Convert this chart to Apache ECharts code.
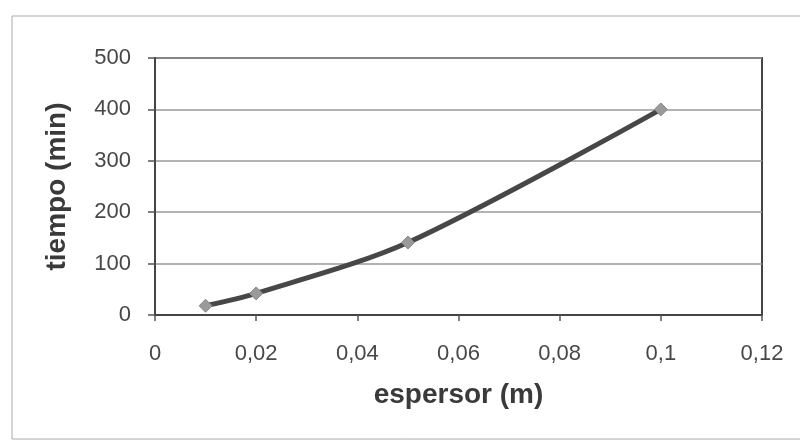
<!DOCTYPE html>
<html>
<head>
<meta charset="utf-8">
<title>tiempo vs espersor</title>
<script src="https://cdn.jsdelivr.net/npm/echarts@6/dist/echarts.min.js"></script>
<style>
  html, body { margin: 0; padding: 0; background: #fff; }
  #chart { width: 800px; height: 441px; }
</style>
</head>
<body>
<div id="chart"></div>
<script>
// Thickness (m) and drying time (min)
const espesor = [0.01, 0.02, 0.05, 0.1];
const tiempo = [18, 42, 141, 400];
const xTicks = [0, 0.02, 0.04, 0.06, 0.08, 0.1, 0.12];
const yTicks = [0, 100, 200, 300, 400, 500];

const points = espesor.map((x, i) => [x, tiempo[i]]);
const fmtComma = v => String(+v.toFixed(2)).replace('.', ',');

const chart = echarts.init(document.getElementById('chart'), null, { renderer: 'canvas' });
chart.setOption({
  animation: false,
  backgroundColor: '#ffffff',
  textStyle: { fontFamily: 'Liberation Sans, Arial, sans-serif' },
  graphic: [{
    type: 'rect',
    shape: { x: 12, y: 16, width: 800, height: 423 },
    style: { fill: 'none', stroke: '#aaaaaa', lineWidth: 1 },
    silent: true,
    z: -1
  }],
  grid: { left: 155, right: 38, top: 58, bottom: 126, show: true,
          borderColor: '#444', borderWidth: 2, backgroundColor: 'transparent' },
  xAxis: {
    type: 'value',
    min: xTicks[0], max: xTicks[xTicks.length - 1], interval: 0.02,
    name: 'espersor (m)', nameLocation: 'middle', nameGap: 66,
    nameTextStyle: { fontSize: 28, fontWeight: 'bold', color: '#3a3a3a' },
    axisLine: { show: true, lineStyle: { color: '#444', width: 2 } },
    axisTick: { show: true, inside: false, length: 6, lineStyle: { color: '#555', width: 1.5 } },
    axisLabel: { fontSize: 22, color: '#484848', margin: 28, formatter: fmtComma },
    splitLine: { show: false }
  },
  yAxis: {
    type: 'value',
    min: yTicks[0], max: yTicks[yTicks.length - 1], interval: 100,
    name: 'tiempo (min)', nameLocation: 'middle', nameGap: 84, nameRotate: 90,
    nameTextStyle: { fontSize: 28, fontWeight: 'bold', color: '#3a3a3a' },
    axisLine: { show: true, lineStyle: { color: '#444', width: 2 } },
    axisTick: { show: true, inside: false, length: 7, lineStyle: { color: '#555', width: 1.5 } },
    axisLabel: { fontSize: 22, color: '#484848', margin: 24 },
    splitLine: { show: true, lineStyle: { color: '#9a9a9a', width: 1.5 } }
  },
  series: [{
    type: 'line',
    data: points,
    smooth: 0.3,
    symbol: 'diamond',
    symbolSize: 13,
    itemStyle: { color: '#9a9a9a', borderColor: '#888', borderWidth: 1 },
    lineStyle: { color: '#474747', width: 5 },
    z: 3
  }]
});
</script>
</body>
</html>
